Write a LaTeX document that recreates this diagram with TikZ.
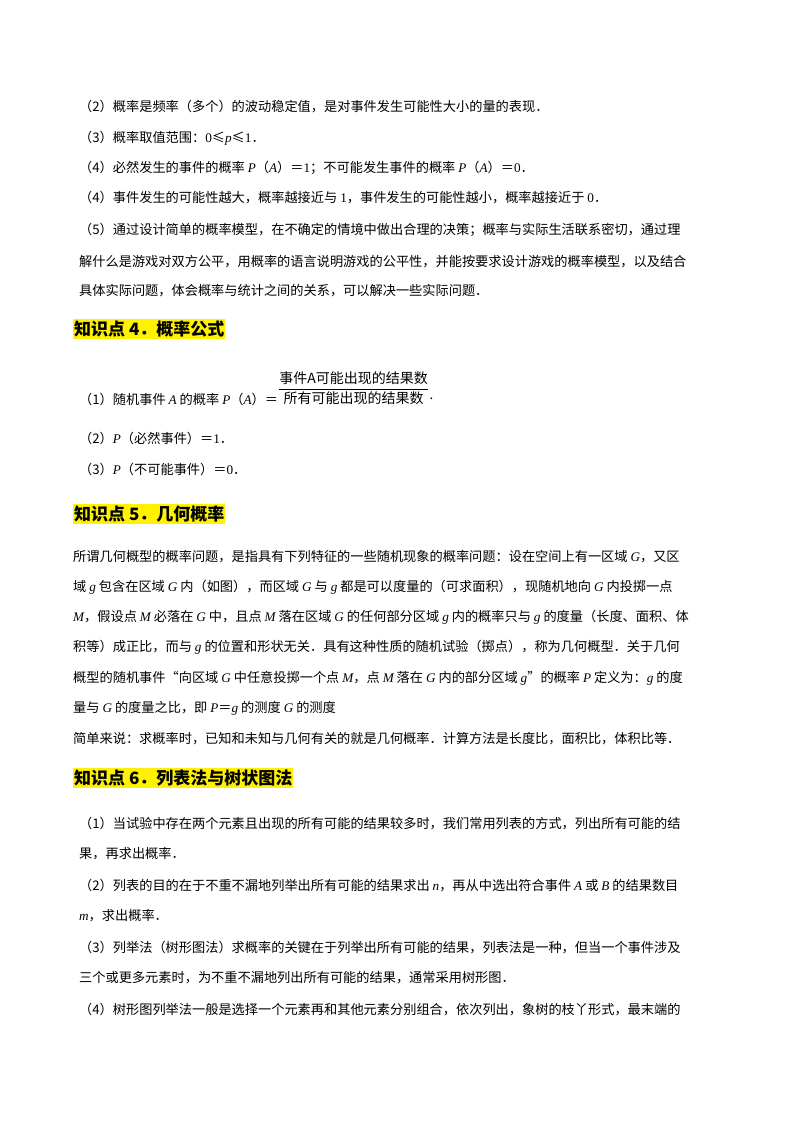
\documentclass[tikz,border=0pt]{standalone}
\usepackage{fontspec}
\setmainfont{Noto Sans CJK SC}
\newfontfamily\lat{Liberation Serif}
\newcommand\iv[1]{{\lat\itshape #1}}
\begin{document}
\begin{tikzpicture}[x=1pt,y=-1pt]
\tikzset{ln/.style={anchor=west,inner sep=0pt,font=\fontsize{13.2}{13.2}\selectfont},
hd/.style={anchor=west,inner xsep=1pt,inner ysep=2pt,fill=yellow,font=\fontsize{17}{17}\selectfont\bfseries}}
\useasboundingbox (0,0) rectangle (800,1132);
\fill[white] (0,0) rectangle (800,1132);
\node[ln] (l1) at (79,107) {（2）概率是频率（多个）的波动稳定值，是对事件发生可能性大小的量的表现．};
\node[ln] (l2) at (79,138) {（3）概率取值范围：{\lat 0}≤\iv{p}≤{\lat 1}．};
\node[ln] (l3) at (79,168) {（4）必然发生的事件的概率 \iv{P}（\iv{A}）＝{\lat 1}；不可能发生事件的概率 \iv{P}（\iv{A}）＝{\lat 0}．};
\node[ln] (l4) at (79,198) {（4）事件发生的可能性越大，概率越接近与 {\lat 1}，事件发生的可能性越小，概率越接近于 {\lat 0}．};
\node[ln] (l5) at (79,230) {（5）通过设计简单的概率模型，在不确定的情境中做出合理的决策；概率与实际生活联系密切，通过理};
\node[ln] (l6) at (79,262) {解什么是游戏对双方公平，用概率的语言说明游戏的公平性，并能按要求设计游戏的概率模型，以及结合};
\node[ln] (l7) at (79,291) {具体实际问题，体会概率与统计之间的关系，可以解决一些实际问题．};
\node[hd] (h4) at (73,329) {知识点 4．概率公式};
\node[ln] (f1) at (79,399) {（1）随机事件 \iv{A} 的概率 \iv{P}（\iv{A}）＝};
\node[anchor=west,inner sep=0pt,font=\fontsize{14}{14}\selectfont] (fr) at (278,388) {$\vcenter{\hbox{$\displaystyle\frac{\hbox{事件A可能出现的结果数}}{\hbox{所有可能出现的结果数}}$}}$};
\node[ln,anchor=west,yshift=-11pt] (dot) at (fr.east) {.};
\node[ln] (l8) at (79,438) {（2）\iv{P}（必然事件）＝{\lat 1}．};
\node[ln] (l9) at (79,469) {（3）\iv{P}（不可能事件）＝{\lat 0}．};
\node[hd] (h5) at (73,514) {知识点 5．几何概率};
\node[ln] (p1) at (73,557) {所谓几何概型的概率问题，是指具有下列特征的一些随机现象的概率问题：设在空间上有一区域 \iv{G}，又区};
\node[ln] (p2) at (73,587) {域 \iv{g} 包含在区域 \iv{G} 内（如图），而区域 \iv{G} 与 \iv{g} 都是可以度量的（可求面积），现随机地向 \iv{G} 内投掷一点};
\node[ln] (p3) at (73,617) {\iv{M}，假设点 \iv{M} 必落在 \iv{G} 中，且点 \iv{M} 落在区域 \iv{G} 的任何部分区域 \iv{g} 内的概率只与 \iv{g} 的度量（长度、面积、体};
\node[ln] (p4) at (73,647) {积等）成正比，而与 \iv{g} 的位置和形状无关．具有这种性质的随机试验（掷点），称为几何概型．关于几何};
\node[ln] (p5) at (73,678) {概型的随机事件“向区域 \iv{G} 中任意投掷一个点 \iv{M}，点 \iv{M} 落在 \iv{G} 内的部分区域 \iv{g}”的概率 \iv{P} 定义为：\iv{g} 的度};
\node[ln] (p6) at (73,708) {量与 \iv{G} 的度量之比，即 \iv{P}＝\iv{g} 的测度 \iv{G} 的测度};
\node[ln] (p7) at (73,739) {简单来说：求概率时，已知和未知与几何有关的就是几何概率．计算方法是长度比，面积比，体积比等．};
\node[hd] (h6) at (73,778) {知识点 6．列表法与树状图法};
\node[ln] (q1) at (79,824) {（1）当试验中存在两个元素且出现的所有可能的结果较多时，我们常用列表的方式，列出所有可能的结};
\node[ln] (q2) at (79,854) {果，再求出概率．};
\node[ln] (q3) at (79,886) {（2）列表的目的在于不重不漏地列举出所有可能的结果求出 \iv{n}，再从中选出符合事件 \iv{A} 或 \iv{B} 的结果数目};
\node[ln] (q4) at (79,916) {\iv{m}，求出概率．};
\node[ln] (q5) at (79,948) {（3）列举法（树形图法）求概率的关键在于列举出所有可能的结果，列表法是一种，但当一个事件涉及};
\node[ln] (q6) at (79,978) {三个或更多元素时，为不重不漏地列出所有可能的结果，通常采用树形图．};
\node[ln] (q7) at (79,1010) {（4）树形图列举法一般是选择一个元素再和其他元素分别组合，依次列出，象树的枝丫形式，最末端的};
\end{tikzpicture}
\end{document}
